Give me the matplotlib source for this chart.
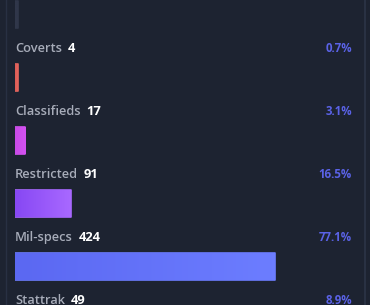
import numpy as np
import matplotlib
matplotlib.use("Agg")
import matplotlib.pyplot as plt
from matplotlib.colors import LinearSegmentedColormap
from matplotlib.lines import Line2D

# данные
labels = ["Golds", "Coverts", "Classifieds", "Restricted", "Mil-specs", "Stattrak"]
counts = [2, 4, 17, 91, 424, 49]
total = 550
colors_left = ["#30374a", "#dc5a55", "#c84ae6", "#8748f4", "#5b68f2", "#d9a53a"]
colors_right = ["#30374a", "#e4665e", "#d452f2", "#a868ff", "#6c7dff", "#e3b54b"]

bg = "#1d2331"
plt.rcParams['font.family'] = ['Open Sans', 'DejaVu Sans']

fig = plt.figure(figsize=(3.7, 3.05), dpi=100)
fig.patch.set_facecolor(bg)
ax = fig.add_axes([15 / 370, 0, 337 / 370, 1])
ax.set_facecolor(bg)
y_top = -14.5 / 63
ax.set_xlim(0, total)
ax.set_ylim((305 - 14.5) / 63, y_top)
ax.axis("off")

# рамка карточки
fig.add_artist(Line2D([5.5 / 370, 5.5 / 370], [0, 1], color="#283043", lw=1))
fig.add_artist(Line2D([364.5 / 370, 364.5 / 370], [0, 1], color="#2c3447", lw=1.2))

bar_h = 27 / 63
min_w = 3 / 337 * total
bars = ax.barh(range(len(labels)), [max(c, min_w) for c in counts], height=bar_h,
               left=0, color=colors_left, edgecolor=colors_right, linewidth=1.2)
for i, b in enumerate(bars):
    b.set_joinstyle("round")
    cmap = LinearSegmentedColormap.from_list("g", [colors_left[i], colors_right[i]])
    grad = np.linspace(0, 1, 64).reshape(1, -1)
    im = ax.imshow(grad, cmap=cmap, aspect="auto",
                   extent=[0, b.get_width(), i + bar_h / 2, i - bar_h / 2],
                   interpolation="bilinear", zorder=3)
    im.set_clip_path(b)

ax.set_xlim(0, total)
ax.set_ylim((305 - 14.5) / 63, y_top)

fig.canvas.draw()
r = fig.canvas.get_renderer()
for i, (lab, c) in enumerate(zip(labels, counts)):
    y = i - 29 / 63
    if y < y_top:
        continue  # подпись выше края карточки
    t = ax.text(0, y, lab, color="#a7acb9", fontsize=9.3, fontweight="semibold",
                va="center", ha="left")
    bb = t.get_window_extent(r)
    x_data = ax.transData.inverted().transform((bb.x1 + 6, 0))[0]
    ax.text(x_data, y, str(c), color="white", fontsize=9.3, fontweight="bold",
            va="center", ha="left")
    ax.text(total, y, f"{c / total * 100:.1f}%", color="#5a62e6", fontsize=8.3,
            fontweight="bold", va="center", ha="right")

fig.savefig("out.png", dpi=100, facecolor=bg)
